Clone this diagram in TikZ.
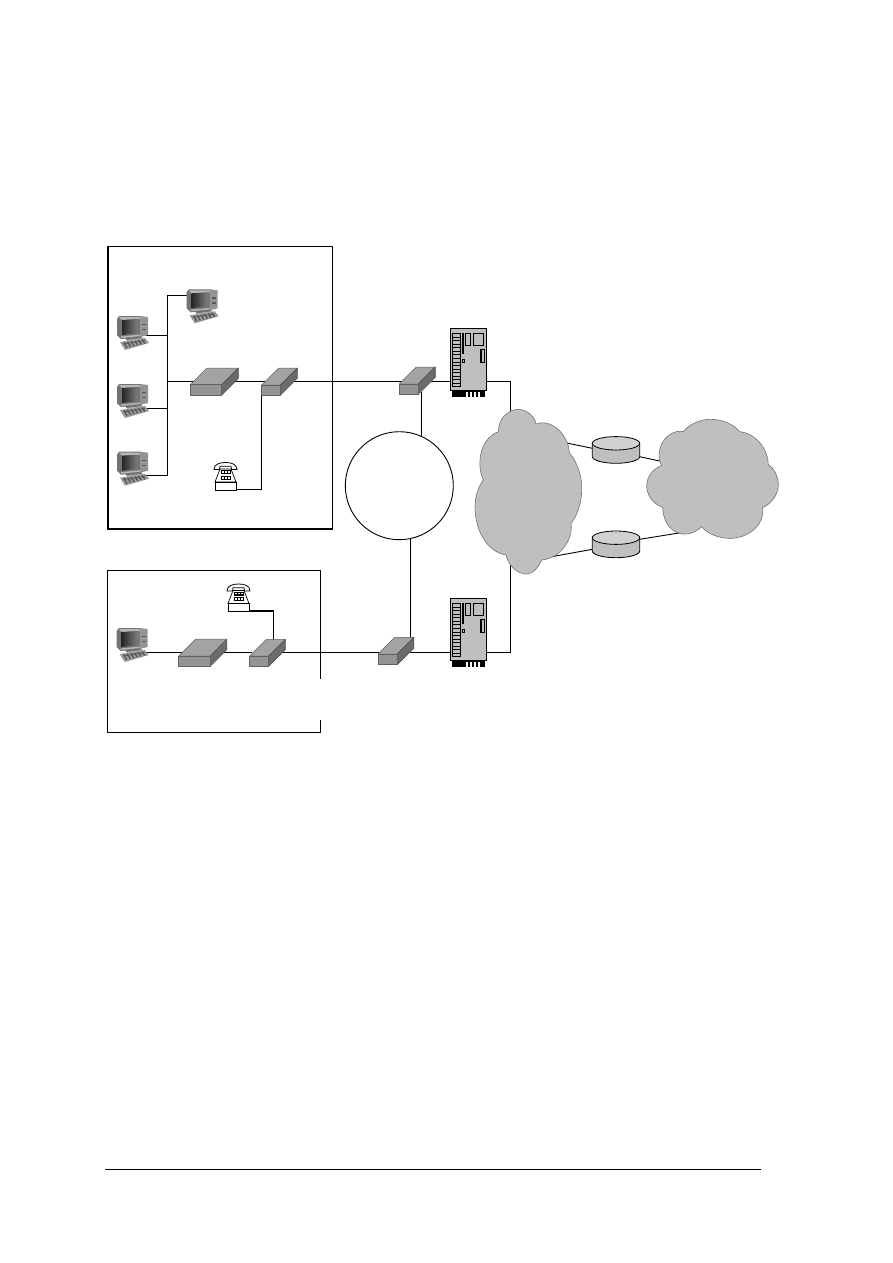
\documentclass[tikz,border=0pt]{standalone}
\tikzset{
  wire/.style={line width=0.9pt,black,line join=miter},
  topface/.style={fill=black!36,draw=black!62,line width=0.5pt,line join=round},
  frontface/.style={fill=black!42,draw=black!62,line width=0.5pt,line join=round},
  sideface/.style={fill=black!58,draw=black!70,line width=0.5pt,line join=round},
  cloudshape/.style={fill=black!25,draw=black!55,line width=0.6pt,line join=miter},
  framethin/.style={line width=1pt,black},
  framethick/.style={line width=1.8pt,black},
  diskline/.style={line width=0.8pt,black},
  pics/pc/.style={code={
    \fill[black!25] (8,22) -- (24,20) -- (26,24) -- (10,26) -- cycle;
    \fill[black!55] (8,23) -- (24,21) -- (25,23) -- (10,25) -- cycle;
    \fill[black!40] (3,27) -- (28,23) -- (32,28) -- (8,35) -- cycle;
    \foreach \k in {0,1,2,3,4,5}{\draw[black!68,line width=1.2pt] (7+3.6*\k,27.5-0.55*\k) -- (10+3.6*\k,33-0.9*\k);}
    \draw[black!68,line width=0.7pt] (6,29) -- (28,25.5);
    \fill[black!55] (0,20) -- (0,4) -- (2,1) -- (24,1) -- (24,22) -- (4,24) -- cycle;
    \fill[black!42] (23,1) -- (31,2) -- (31,20) -- (23,22) -- cycle;
    \fill[black!65] (25,9) rectangle (29,10.2);
    \fill[black!65] (25,14) rectangle (29,15.2);
    \fill[black!28] (2,2) -- (23,2) -- (23,4) -- (5,5) -- cycle;
    \shade[left color=black!85,right color=black!50] (5,5) -- (21,4) -- (21,18) -- (5,20) -- cycle;
    \fill[black!28] (4,21.5) -- (23,19.5) -- (23,21) -- (4,23) -- cycle;
  }},
  pics/boxdev/.style n args={3}{code={
    % #1 front width, #2 front height, #3 depth; origin = front top left
    \path[topface] (0,0) -- (#3,-#3) -- (#1+#3,-#3) -- (#1,0) -- cycle;
    \path[sideface] (#1,0) -- (#1+#3,-#3) -- (#1+#3,-#3+#2) -- (#1,#2) -- cycle;
    \path[frontface] (0,0) rectangle (#1,#2);
  }},
  pics/phone/.style={code={
    \draw[black,line width=0.7pt,fill=white] (6,7) -- (1,20) -- (22,20) -- (17,7) -- cycle;
    \draw[black,line width=0.8pt,fill=white] (0,7.5) .. controls (0,2) and (6,0.5) .. (11.5,0.5) .. controls (17,0.5) and (23,2) .. (23,7.5) -- (17.5,7.5) -- (17,4.2) -- (6,4.2) -- (5.5,7.5) -- cycle;
    \fill[black] (7,8) rectangle (16.5,12);
    \fill[black] (7,13.5) rectangle (16.5,17.5);
    \foreach \k in {0,1,2}{
      \fill[white] (8+2.9*\k,14.7) rectangle (9.7+2.9*\k,16.5);
      \fill[white] (8+2.9*\k,9.2) rectangle (9.7+2.9*\k,10.8);
    }
    \draw[black,line width=0.7pt,fill=white] (1,20) rectangle (22,28);
  }},
  pics/card/.style={code={
    \fill[black!25] (0,0) rectangle (36,62);
    \draw[black,line width=1pt] (0,0) rectangle (36,62);
    \draw[black,line width=1.6pt] (36,0) -- (36,62);
    \draw[black,line width=0.8pt] (2.5,5.5) rectangle (10,58);
    \foreach \k in {1,...,14}{\draw[black,line width=1pt] (2.5,5.5+3.53*\k) -- (10,5.5+3.53*\k);}
    \fill[black] (11.5,5) rectangle (13.5,26);
    \draw[black,line width=0.7pt] (15,5.5) rectangle (20,17);
    \draw[black,line width=0.7pt] (23.5,5.5) rectangle (33.5,17);
    \draw[black,line width=0.7pt] (12,31.5) rectangle (14.2,34.2);
    \draw[black,line width=1.4pt] (30.5,21) rectangle (34,34);
    \fill[black] (2,62) rectangle (34.7,68.5);
    \foreach \k in {16,20,24,28}{\fill[white] (\k,64) rectangle (\k+1.8,68.5);}
  }},
  pics/disk/.style={code={
    % origin = centre of the top ellipse
    \draw[diskline,fill=black!25] (-23.7,0) -- (-23.7,13.3) arc[start angle=180,end angle=0,x radius=23.7,y radius=6.7] -- (23.7,0);
    \draw[diskline,fill=black!18] (0,0) ellipse[x radius=23.7,y radius=6.7];
  }}
}
\begin{document}
\begin{tikzpicture}[x=1pt,y=-1pt]
\useasboundingbox (0,0) rectangle (893,1263);
\fill[white] (0,0) rectangle (893,1263);

% named connection points
\coordinate (busTop) at (167.3,295.3);
\coordinate (busA) at (167.3,335.3);
\coordinate (busHub) at (167.3,381.3);
\coordinate (busB) at (167.3,408.3);
\coordinate (busBot) at (167.3,475.7);
\coordinate (pcTopPort) at (188,295.3);
\coordinate (pcAPort) at (146,335.3);
\coordinate (pcBPort) at (146,408.3);
\coordinate (pcCPort) at (146,475.7);
\coordinate (hubAin) at (195,381.3);
\coordinate (hubAout) at (235,381.3);
\coordinate (swAin) at (265,381.3);
\coordinate (swAout) at (292,381.3);
\coordinate (swBin) at (402,381.3);
\coordinate (swBout) at (430,381.3);
\coordinate (cardAin) at (452,381.3);
\coordinate (cardAout) at (486,381.3);
\coordinate (cornerA) at (510.3,381.3);
\coordinate (cloudTopEnd) at (510.3,415);
\coordinate (swAbot) at (261.7,394);
\coordinate (swAcorner) at (261.7,489);
\coordinate (phoneAport) at (236,489);
\coordinate (swBdown) at (421.3,392);
\coordinate (ringTop) at (421.3,436.5);
\coordinate (ringBot) at (410.5,539);
\coordinate (swDup) at (410.5,640);
\coordinate (pcDPort) at (145,652.3);
\coordinate (hubBin) at (185,652.3);
\coordinate (hubBout) at (222,652.3);
\coordinate (swCin) at (252,652.3);
\coordinate (swCout) at (282,652.3);
\coordinate (swDin) at (380,652.3);
\coordinate (swDout) at (410,652.3);
\coordinate (cardBin) at (452,652.3);
\coordinate (cardBout) at (486,652.3);
\coordinate (cornerB) at (510.3,652.3);
\coordinate (cloudBotEnd) at (510.3,565);
\coordinate (phoneBport) at (249,611);
\coordinate (phoneBcorner) at (273.7,611);
\coordinate (swCtop) at (273.7,640);
\coordinate (cloudAr1) at (562,442);
\coordinate (diskAl) at (592.3,448.3);
\coordinate (diskAr) at (639.7,456.7);
\coordinate (cloudBl1) at (662,461.5);
\coordinate (cloudAr2) at (550,557);
\coordinate (diskBl) at (592.3,549.3);
\coordinate (diskBr) at (639.7,539.3);
\coordinate (cloudBl2) at (690,531.2);

% frames
\draw[framethin] (107.7,246) -- (332,246) -- (332,529);
\draw[framethick] (107.7,245.5) -- (107.7,529) -- (332.5,529);
\draw[line width=1.2pt] (107.7,570) -- (107.7,732.5);
\draw[framethin] (107.2,570) -- (320,570) -- (320,679);
\draw[framethin] (320,720) -- (320,732) -- (107.2,732);

% wires
\draw[wire] (pcTopPort) -- (busTop) -- (busBot) -- (pcCPort);
\draw[wire] (pcAPort) -- (busA);
\draw[wire] (pcBPort) -- (busB);
\draw[wire] (busHub) -- (hubAin);
\draw[wire] (hubAout) -- (swAin);
\draw[wire] (swAout) -- (swBin);
\draw[wire] (swBout) -- (cardAin);
\draw[wire] (cardAout) -- (cornerA) -- (cloudTopEnd);
\draw[wire] (swAbot) -- (swAcorner) -- (phoneAport);
\draw[wire] (swBdown) -- (ringTop);
\draw[wire] (ringBot) -- (swDup);
\draw[wire] (pcDPort) -- (hubBin);
\draw[wire] (hubBout) -- (swCin);
\draw[wire] (swCout) -- (swDin);
\draw[wire] (swDout) -- (cardBin);
\draw[wire] (cardBout) -- (cornerB) -- (cloudBotEnd);
\draw[line width=1.7pt] (phoneBport) -- (phoneBcorner);
\draw[wire] (phoneBcorner) -- (swCtop);
\draw[wire] (cloudAr1) -- (diskAl);
\draw[wire] (diskAr) -- (cloudBl1);
\draw[wire] (cloudAr2) -- (diskBl);
\draw[wire] (diskBr) -- (cloudBl2);

% ring
\draw[line width=0.9pt,fill=white] (399.3,485.7) circle[radius=54];

% clouds
\begin{scope}[shift={(470,400)},x=0.33333pt,y=-0.33333pt]
\path[cloudshape] (85,95) .. controls (85,50) and (120,28) .. (145,28)
  .. controls (170,28) and (195,50) .. (198,72)
  .. controls (240,55) and (295,100) .. (298,158)
  .. controls (325,190) and (337,235) .. (335,270)
  .. controls (335,310) and (320,350) .. (303,370)
  .. controls (310,420) and (270,475) .. (215,480)
  .. controls (205,505) and (185,522) .. (170,522)
  .. controls (140,522) and (115,495) .. (108,465)
  .. controls (50,455) and (15,390) .. (15,320)
  .. controls (15,290) and (25,260) .. (40,240)
  .. controls (22,205) and (22,120) .. (85,95) -- cycle;
\path[cloudshape] (640,95) .. controls (660,70) and (695,58) .. (720,58)
  .. controls (760,58) and (795,75) .. (808,95)
  .. controls (860,100) and (895,150) .. (895,195)
  .. controls (915,205) and (925,235) .. (925,255)
  .. controls (925,285) and (900,315) .. (878,322)
  .. controls (885,375) and (835,415) .. (780,415)
  .. controls (745,415) and (710,400) .. (695,380)
  .. controls (650,425) and (580,400) .. (578,322)
  .. controls (545,310) and (530,280) .. (530,258)
  .. controls (530,230) and (550,205) .. (575,197)
  .. controls (550,150) and (590,85) .. (640,95) -- cycle;
\end{scope}

% devices
\pic (pcTop) at (186.7,288.3) {pc};
\pic (pcA) at (117,315) {pc};
\pic (pcB) at (117,383) {pc};
\pic (pcC) at (117,450.7) {pc};
\pic (pcD) at (116.7,627) {pc};
\pic (hubA) at (190.3,384.7) {boxdev={31.4}{10.3}{16.6}};
\pic (swA) at (261.7,385) {boxdev={18.7}{10.2}{17}};
\pic (swB) at (399.3,384) {boxdev={19}{10.3}{17}};
\pic (hubB) at (178.7,656) {boxdev={31.4}{10.3}{16.8}};
\pic (swC) at (249.7,656) {boxdev={19}{10.3}{16.6}};
\pic (swD) at (378,654) {boxdev={19.3}{10.7}{16.6}};
\pic (phoneA) at (214,462) {phone};
\pic (phoneB) at (227,583.5) {phone};
\pic (cardA) at (450.3,328.3) {card};
\pic (cardB) at (450.3,598.3) {card};
\pic (diskA) at (616,443.3) {disk};
\pic (diskB) at (616,537.7) {disk};

% page rule
\coordinate (ruleL) at (105,1169);
\coordinate (ruleR) at (761,1169);
\draw[line width=0.8pt] (ruleL) -- (ruleR);
\end{tikzpicture}
\end{document}
